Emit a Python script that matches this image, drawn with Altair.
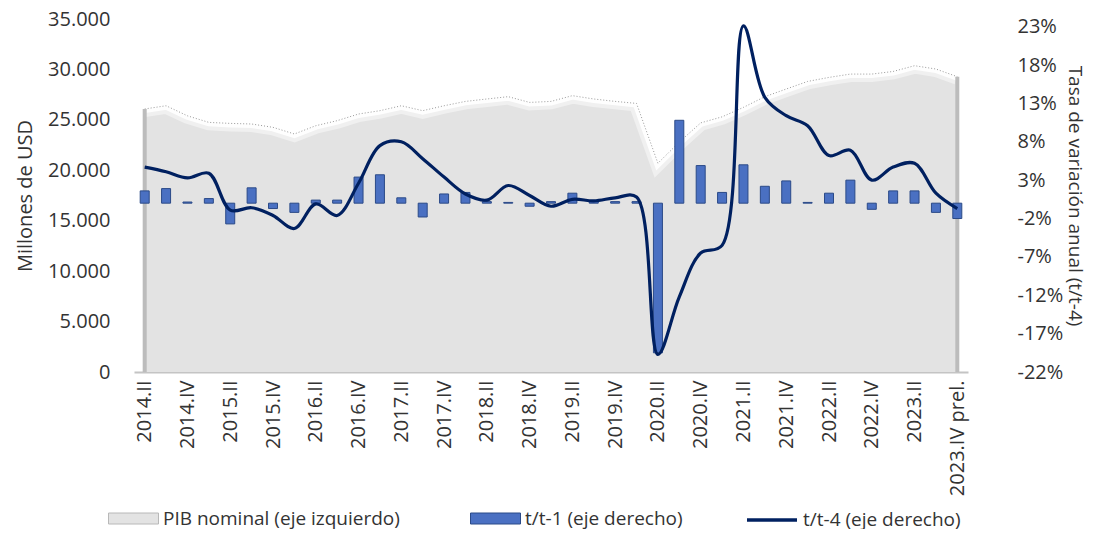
import altair as alt
import pandas as pd

quarters = ["2014.II", "2014.III", "2014.IV", "2015.I", "2015.II", "2015.III", "2015.IV",
            "2016.I", "2016.II", "2016.III", "2016.IV", "2017.I", "2017.II", "2017.III",
            "2017.IV", "2018.I", "2018.II", "2018.III", "2018.IV", "2019.I", "2019.II",
            "2019.III", "2019.IV", "2020.I", "2020.II", "2020.III", "2020.IV", "2021.I",
            "2021.II", "2021.III", "2021.IV", "2022.I", "2022.II", "2022.III", "2022.IV",
            "2023.I", "2023.II", "2023.III", "2023.IV prel."]

pib = [26080, 26400, 25400, 24750, 24650, 24590, 24260, 23600, 24420, 24920, 25580,
       25910, 26400, 25910, 26400, 26830, 27070, 27300, 26730, 26830, 27400, 27070,
       26830, 26630, 20700, 22800, 24700, 25300, 26240, 27300, 28060, 28810, 29210,
       29540, 29540, 29800, 30370, 30040, 29280]

tt1 = [1.6, 1.9, 0.15, 0.6, -2.7, 2.0, -0.7, -1.2, 0.4, 0.4, 3.4, 3.7, 0.7, -1.8, 1.2,
       1.4, 0.2, 0.1, -0.4, 0.2, 1.3, 0.3, 0.2, 0.2, -19.5, 10.8, 4.9, 1.4, 5.0, 2.2,
       2.9, 0.1, 1.3, 3.0, -0.8, 1.6, 1.6, -1.2, -2.0]

tt4 = [4.7, 4.1, 3.3, 3.9, -0.9, -0.6, -1.6, -3.3, -0.1, -1.6, 2.6, 7.5, 8.0, 5.8, 3.4,
       1.2, 0.4, 2.3, 1.0, -0.4, 0.5, 0.3, 0.7, 0.8, -19.7, -12.2, -6.5, -5.5, 23.1,
       13.8, 11.4, 10.1, 6.2, 6.9, 3.0, 4.7, 5.2, 1.3, -0.7]

left_ticks = [0, 5000, 10000, 15000, 20000, 25000, 30000, 35000]
right_ticks = [-22, -17, -12, -7, -2, 3, 8, 13, 18, 23]

leg_pib = "PIB nominal (eje izquierdo)"
leg_tt1 = "t/t-1 (eje derecho)"
leg_tt4 = "t/t-4 (eje derecho)"

df = pd.DataFrame({"q": quarters, "i": list(range(len(quarters))),
                   "pib": pib, "tt1": tt1, "tt4": tt4,
                   "s_pib": leg_pib, "s_tt1": leg_tt1, "s_tt4": leg_tt4})

x_enc = alt.X("q:N", sort=quarters,
              scale=alt.Scale(type="point", padding=0.5),
              axis=alt.Axis(values=quarters[0::2], labelAngle=270, labelPadding=8,
                            domain=True, domainColor="#c4c4c4", domainWidth=2,
                            title=None))

left_axis = alt.Axis(orient="left", values=left_ticks,
                     labelExpr="replace(format(datum.value, ','), ',', '.')",
                     title="Millones de USD", labelPadding=24, titlePadding=12)
y_left = alt.Scale(domain=[0, 35000])

right_axis = alt.Axis(orient="right", values=right_ticks,
                      labelExpr="datum.value + '%'", labelAlign="left",
                      title="Tasa de variación anual (t/t-4)", titleFontSize=19,
                      labelPadding=49, titlePadding=2)
y_right = alt.Scale(domain=[-22, 24])

rect_sym = "M-1,-0.22L1,-0.22L1,0.22L-1,0.22Z"
leg_y = 474

base = alt.Chart(df)

area = base.mark_area().encode(
    x=x_enc,
    y=alt.Y("pib:Q", scale=y_left, axis=left_axis),
    color=alt.Color("s_pib:N", scale=alt.Scale(domain=[leg_pib], range=["#e3e3e3"]),
                    legend=alt.Legend(title=None, orient="none", legendX=-26, legendY=leg_y,
                                      symbolType=rect_sym, symbolSize=2500, labelLimit=400,
                                      symbolStrokeColor="#b8b8b8", symbolStrokeWidth=1)),
)
glow1 = base.mark_line(color="white", strokeWidth=16, opacity=0.45).encode(
    x=x_enc, y=alt.Y("pib:Q", scale=y_left, axis=left_axis))
glow2 = base.mark_line(color="white", strokeWidth=8, opacity=0.9).encode(
    x=x_enc, y=alt.Y("pib:Q", scale=y_left, axis=left_axis))
dotted = base.mark_line(color="#9a9a9a", strokeWidth=1, strokeDash=[1, 2]).encode(
    x=x_enc, y=alt.Y("pib:Q", scale=y_left, axis=left_axis))
edges = base.mark_rule(color="#bcbcbc", strokeWidth=4).encode(
    x=x_enc, y=alt.Y("pib:Q", scale=y_left, axis=left_axis), y2=alt.datum(0)
).transform_filter(f"datum.i == 0 || datum.i == {len(quarters) - 1}")

left_layer = alt.layer(area, glow1, glow2, dotted, edges)

bars = base.mark_bar(size=9, stroke="#2b4a88", strokeWidth=1).encode(
    x=x_enc,
    y=alt.Y("tt1:Q", scale=y_right, axis=right_axis),
    fill=alt.Fill("s_tt1:N", scale=alt.Scale(domain=[leg_tt1], range=["#4a70c2"]),
                  legend=alt.Legend(title=None, orient="none", legendX=336, legendY=leg_y,
                                    symbolType=rect_sym, symbolSize=2500, labelLimit=400,
                                    symbolStrokeColor="#2b4a88", symbolStrokeWidth=1)),
)
line = base.mark_line(strokeWidth=3.2, interpolate="catmull-rom").encode(
    x=x_enc,
    y=alt.Y("tt4:Q", scale=y_right, axis=right_axis),
    stroke=alt.Stroke("s_tt4:N", scale=alt.Scale(domain=[leg_tt4], range=["#002060"]),
                      legend=alt.Legend(title=None, orient="none", legendX=611, legendY=leg_y,
                                        symbolType="stroke", symbolSize=2500, labelLimit=400,
                                        symbolStrokeWidth=3.5)),
)
right_layer = alt.layer(bars, line)

chart = alt.layer(left_layer, right_layer).resolve_scale(y="independent").properties(
    width=834, height=353,
    autosize=alt.AutoSizeParams(type="none"),
    padding={"left": 126, "top": 11, "right": 123, "bottom": 157},
).configure_view(stroke=None).configure_axis(
    labelFont="Open Sans", titleFont="Open Sans", labelFontSize=20, titleFontSize=20,
    labelColor="#333333", titleColor="#333333", titleFontWeight="normal",
    grid=False, ticks=False, domain=False,
).configure_legend(
    labelFont="Open Sans", labelFontSize=19, labelColor="#333333",
)

chart.save("out.html", embed_options={"renderer": "svg", "actions": False})
